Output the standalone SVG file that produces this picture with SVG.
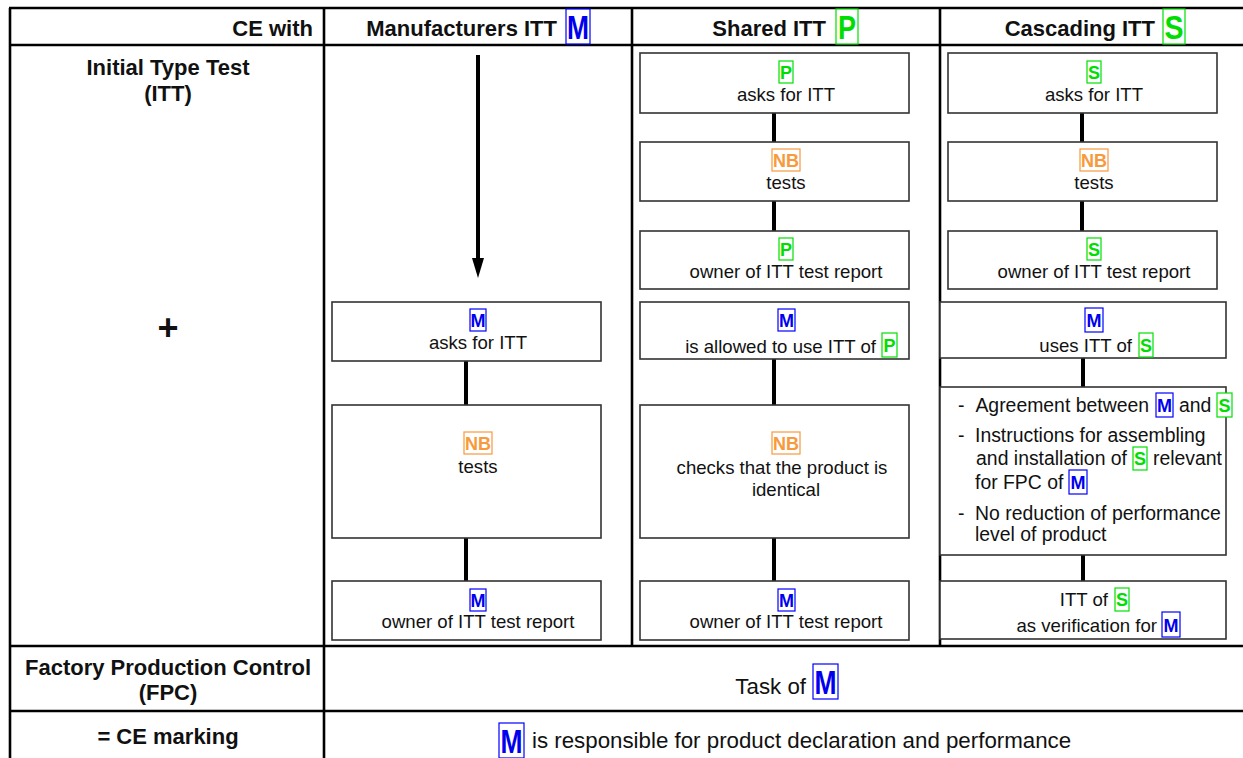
<svg xmlns="http://www.w3.org/2000/svg" width="1243" height="758" viewBox="0 0 1243 758">
<defs>
<style>
text{font-family:"Liberation Sans",Arial,sans-serif;fill:#111}
.h{font-size:22px;font-weight:bold}
.t{font-size:18.6px}
.c{text-anchor:middle}
.e{text-anchor:end}
.l{font-size:19.4px}
.big{font-size:22.3px}
.tbl{stroke:#000;stroke-width:2.6;fill:none}
.box{fill:#fff;stroke:#333;stroke-width:1.6}
.conn{stroke:#000;stroke-width:4;fill:none}
.bm{fill:#fff;stroke:#0000ff;stroke-width:1.2}
.bg{fill:#fff;stroke:#00e000;stroke-width:1.2}
.bo{fill:#fff;stroke:#f79a3c;stroke-width:1.2}
.m{fill:#0000ee;font-weight:bold;text-anchor:middle}
.g{fill:#00dd00;font-weight:bold;text-anchor:middle}
.o{fill:#f79a3c;font-weight:bold;text-anchor:middle}
.s{font-size:18px}
.L{font-size:33px}
</style>
<marker id="ah" markerWidth="20" markerHeight="12" refX="-16" refY="0" viewBox="-20 -6 20 12" markerUnits="userSpaceOnUse" orient="auto">
<path d="M-20,-6 L0,0 L-20,6 Z" fill="#000"/>
</marker>
</defs>

<g id="table">
<line class="tbl" x1="9" y1="8" x2="1243" y2="8"/>
<line class="tbl" x1="9" y1="45" x2="1243" y2="45"/>
<line class="tbl" x1="9" y1="646" x2="1243" y2="646"/>
<line class="tbl" x1="9" y1="711" x2="1243" y2="711"/>
<line class="tbl" x1="10" y1="8" x2="10" y2="758"/>
<line class="tbl" x1="324" y1="8" x2="324" y2="758"/>
<line class="tbl" x1="632" y1="8" x2="632" y2="646"/>
<line class="tbl" x1="940" y1="8" x2="940" y2="646"/>
</g>

<g id="header">
<text class="h e" x="313" y="36">CE with</text>
<text class="h e" x="557" y="36">Manufacturers ITT</text>
<rect class="bm" x="566" y="9" width="24" height="35"/>
<text class="m L" x="578" y="39" textLength="22" lengthAdjust="spacingAndGlyphs">M</text>
<text class="h e" x="826" y="36">Shared ITT</text>
<rect class="bg" x="836" y="9" width="22" height="35"/>
<text class="g L" x="847" y="39" textLength="18" lengthAdjust="spacingAndGlyphs">P</text>
<text class="h e" x="1155" y="36">Cascading ITT</text>
<rect class="bg" x="1163" y="9" width="22" height="35"/>
<text class="g L" x="1174" y="39" textLength="19" lengthAdjust="spacingAndGlyphs">S</text>
</g>

<g id="row-labels">
<text class="h c" x="168" y="75">Initial Type Test</text>
<text class="h c" x="168" y="101">(ITT)</text>
<text class="c" x="168" y="340" style="font-size:36px;font-weight:bold">+</text>
<text class="h c" x="168" y="675">Factory Production Control</text>
<text class="h c" x="168" y="700">(FPC)</text>
<text class="h c" x="168" y="744">= CE marking</text>
</g>

<g id="connectors">
<line class="conn" x1="478" y1="55" x2="478" y2="262" marker-end="url(#ah)"/>
<line class="conn" x1="466" y1="361" x2="466" y2="405"/>
<line class="conn" x1="466" y1="538" x2="466" y2="581"/>
<line class="conn" x1="774" y1="113" x2="774" y2="142"/>
<line class="conn" x1="774" y1="201" x2="774" y2="231"/>
<line class="conn" x1="774" y1="359" x2="774" y2="405"/>
<line class="conn" x1="774" y1="538" x2="774" y2="581"/>
<line class="conn" x1="1082" y1="113" x2="1082" y2="142"/>
<line class="conn" x1="1082" y1="201" x2="1082" y2="231"/>
<line class="conn" x1="1083" y1="358" x2="1083" y2="387"/>
<line class="conn" x1="1083" y1="555" x2="1083" y2="581"/>
</g>

<g id="m-asks">
<rect class="box" x="332" y="302" width="269" height="59"/>
<rect class="bm" x="470" y="309" width="16" height="22"/>
<text class="m s" x="478" y="327">M</text>
<text class="t c" x="478" y="349">asks for ITT</text>
</g>
<g id="m-nb-tests">
<rect class="box" x="332" y="405" width="269" height="133"/>
<rect class="bo" x="464" y="432" width="28" height="22"/>
<text class="o s" x="478" y="450">NB</text>
<text class="t c" x="478" y="473">tests</text>
</g>
<g id="m-owner">
<rect class="box" x="332" y="581" width="269" height="59"/>
<rect class="bm" x="470" y="589" width="16" height="22"/>
<text class="m s" x="478" y="607">M</text>
<text class="t c" x="478" y="628">owner of ITT test report</text>
</g>

<g id="p-asks">
<rect class="box" x="640" y="53" width="269" height="60"/>
<rect class="bg" x="779" y="61" width="14" height="22"/>
<text class="g s" x="786" y="79">P</text>
<text class="t c" x="786" y="101">asks for ITT</text>
</g>
<g id="p-nb-tests">
<rect class="box" x="640" y="142" width="269" height="59"/>
<rect class="bo" x="772" y="149" width="28" height="22"/>
<text class="o s" x="786" y="167">NB</text>
<text class="t c" x="786" y="189">tests</text>
</g>
<g id="p-owner">
<rect class="box" x="640" y="231" width="269" height="58"/>
<rect class="bg" x="779" y="238" width="14" height="22"/>
<text class="g s" x="786" y="256">P</text>
<text class="t c" x="786" y="278">owner of ITT test report</text>
</g>
<g id="p-m-allowed">
<rect class="box" x="640" y="302" width="269" height="57"/>
<rect class="bm" x="778" y="309" width="17" height="22"/>
<text class="m s" x="786.5" y="327">M</text>
<text class="t e" x="876" y="353">is allowed to use ITT of</text>
<rect class="bg" x="882" y="333" width="15" height="24"/>
<text class="g s" x="889.5" y="352">P</text>
</g>
<g id="p-nb-checks">
<rect class="box" x="640" y="405" width="269" height="133"/>
<rect class="bo" x="772" y="432" width="28" height="22"/>
<text class="o s" x="786" y="450">NB</text>
<text class="t c" x="782" y="474">checks that the product is</text>
<text class="t c" x="786" y="496">identical</text>
</g>
<g id="p-m-owner">
<rect class="box" x="640" y="581" width="269" height="59"/>
<rect class="bm" x="778" y="589" width="17" height="22"/>
<text class="m s" x="786.5" y="607">M</text>
<text class="t c" x="786" y="628">owner of ITT test report</text>
</g>

<g id="s-asks">
<rect class="box" x="948" y="53" width="269" height="60"/>
<rect class="bg" x="1087" y="61" width="14" height="22"/>
<text class="g s" x="1094" y="79">S</text>
<text class="t c" x="1094" y="101">asks for ITT</text>
</g>
<g id="s-nb-tests">
<rect class="box" x="948" y="142" width="269" height="59"/>
<rect class="bo" x="1080" y="149" width="28" height="22"/>
<text class="o s" x="1094" y="167">NB</text>
<text class="t c" x="1094" y="189">tests</text>
</g>
<g id="s-owner">
<rect class="box" x="948" y="231" width="269" height="58"/>
<rect class="bg" x="1087" y="238" width="14" height="22"/>
<text class="g s" x="1094" y="256">S</text>
<text class="t c" x="1094" y="278">owner of ITT test report</text>
</g>
<g id="s-m-uses">
<rect class="box" x="940" y="302" width="286" height="56"/>
<rect class="bm" x="1085" y="308" width="18" height="24"/>
<text class="m s" x="1094" y="327">M</text>
<text class="t e" x="1132" y="352">uses ITT of</text>
<rect class="bg" x="1139" y="333" width="14" height="24"/>
<text class="g s" x="1146" y="352">S</text>
</g>
<g id="s-conditions">
<rect class="box" x="940" y="387" width="286" height="168"/>
<text class="l" x="958" y="412">-</text>
<text class="l e" x="1149" y="412">Agreement between</text>
<rect class="bm" x="1156" y="393" width="17" height="24"/>
<text class="m s" x="1164.5" y="412">M</text>
<text class="l" x="1179" y="412">and</text>
<rect class="bg" x="1217" y="393" width="15" height="24"/>
<text class="g s" x="1224.5" y="412">S</text>
<text class="l" x="958" y="442">-</text>
<text class="l" x="975" y="442">Instructions for assembling</text>
<text class="l e" x="1127" y="465">and installation of</text>
<rect class="bg" x="1133" y="447" width="14" height="23"/>
<text class="g s" x="1140" y="465">S</text>
<text class="l" x="1153" y="465">relevant</text>
<text class="l" x="975" y="489">for FPC of</text>
<rect class="bm" x="1069" y="470" width="18" height="24"/>
<text class="m s" x="1078" y="489">M</text>
<text class="l" x="958" y="520">-</text>
<text class="l" x="975" y="520">No reduction of performance</text>
<text class="l" x="975" y="541">level of product</text>
</g>
<g id="s-verification">
<rect class="box" x="940" y="581" width="286" height="58"/>
<text class="t e" x="1108" y="606">ITT of</text>
<rect class="bg" x="1115" y="588" width="14" height="23"/>
<text class="g s" x="1122" y="606">S</text>
<text class="t e" x="1157" y="632">as verification for</text>
<rect class="bm" x="1162" y="612" width="18" height="25"/>
<text class="m s" x="1171" y="632">M</text>
</g>

<g id="fpc">
<text class="big e" x="806" y="694">Task of</text>
<rect class="bm" x="813" y="664" width="25" height="35"/>
<text class="m L" x="825.5" y="694" textLength="22" lengthAdjust="spacingAndGlyphs">M</text>
</g>
<g id="ce-marking">
<rect class="bm" x="499" y="723" width="25" height="35"/>
<text class="m L" x="511.5" y="753" textLength="22" lengthAdjust="spacingAndGlyphs">M</text>
<text class="big" x="532" y="748">is responsible for product declaration and performance</text>
</g>
</svg>
